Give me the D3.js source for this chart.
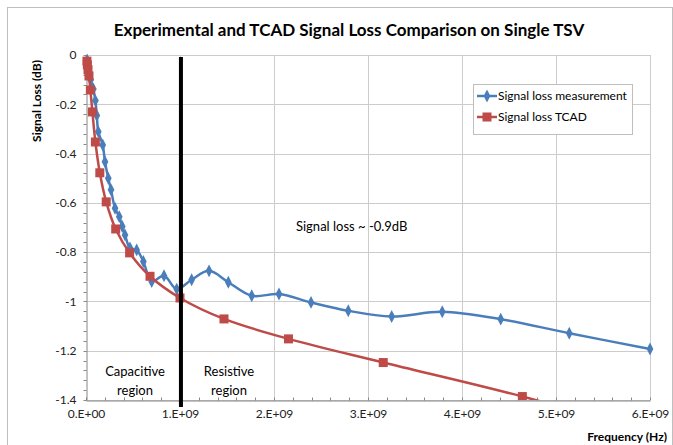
<!DOCTYPE html>
<html><head><meta charset="utf-8">
<script src="https://cdn.jsdelivr.net/npm/d3@7"></script>
<style>body{margin:0;background:#fff}svg text{font-family:Lato,"Open Sans",sans-serif}</style>
</head><body><svg id="c" width="673" height="445"></svg>
<script>
const measFreq = [0.012e9,0.03e9,0.05e9,0.078e9,0.100e9,0.115e9,0.131e9,0.178e9,0.202e9,0.237e9,0.266e9,0.309e9,0.354e9,0.386e9,0.415e9,0.468e9,0.539e9,0.610e9,0.699e9,0.830e9,0.965e9,1.124e9,1.309e9,1.514e9,1.763e9,2.053e9,2.394e9,2.790e9,3.252e9,3.790e9,4.412e9,5.141e9,6.0e9];
const measLoss = [-0.02,-0.06,-0.10,-0.138,-0.185,-0.245,-0.311,-0.365,-0.433,-0.500,-0.547,-0.622,-0.656,-0.696,-0.730,-0.783,-0.791,-0.838,-0.919,-0.896,-0.950,-0.912,-0.876,-0.922,-0.977,-0.970,-1.004,-1.038,-1.061,-1.042,-1.072,-1.129,-1.193];
const tcadFreq = [0.010e9,0.0147e9,0.0215e9,0.0316e9,0.0464e9,0.0681e9,0.100e9,0.147e9,0.215e9,0.316e9,0.464e9,0.681e9,1.000e9,1.468e9,2.154e9,3.162e9,4.642e9,6.81e9];
const tcadLoss = [-0.025,-0.04,-0.06,-0.085,-0.142,-0.231,-0.353,-0.478,-0.596,-0.706,-0.803,-0.898,-0.986,-1.071,-1.152,-1.248,-1.386,-1.62];
const xTicks = [0,1e9,2e9,3e9,4e9,5e9,6e9];
const xTickLabels = ["0.E+00","1.E+09","2.E+09","3.E+09","4.E+09","5.E+09","6.E+09"];
const yTicks = [0,-0.2,-0.4,-0.6,-0.8,-1,-1.2,-1.4];
const yTickLabels = ["0","-0.2","-0.4","-0.6","-0.8","-1","-1.2","-1.4"];
const seriesNames = ["Signal loss measurement","Signal loss TCAD"];
const boundaryFreq = 1.01e9;

const svg = d3.select("#c");
const L=86,R=650,T=55,B=400;
const x = d3.scaleLinear().domain([0,6e9]).range([L,R]);
const y = d3.scaleLinear().domain([-1.4,0]).range([B,T]);

svg.append("rect").attr("x",7.5).attr("y",7.5).attr("width",665).attr("height",440).attr("fill","none").attr("stroke","#bfbfbf");

svg.append("text").attr("x",349).attr("y",36).attr("text-anchor","middle")
  .attr("font-size",17).attr("font-weight","bold").attr("fill","#000")
  .text("Experimental and TCAD Signal Loss Comparison on Single TSV");

const g = svg.append("g");
g.selectAll(".hg").data(yTicks).enter().append("line")
  .attr("x1",L).attr("x2",R).attr("y1",d=>Math.round(y(d))+0.5).attr("y2",d=>Math.round(y(d))+0.5)
  .attr("stroke","#cccccc");
g.selectAll(".vg").data(xTicks.slice(1)).enter().append("line")
  .attr("y1",T).attr("y2",B).attr("x1",d=>Math.round(x(d))+0.5).attr("x2",d=>Math.round(x(d))+0.5)
  .attr("stroke","#cccccc");

const xAxis = d3.axisBottom(x).tickValues(xTicks).tickSize(0).tickPadding(9).tickFormat((d,i)=>xTickLabels[i]);
const gx = svg.append("g").attr("transform",`translate(0,${B+0.5})`).call(xAxis);
gx.select(".domain").attr("stroke","#868686");
gx.selectAll("text").attr("font-size",12).attr("fill","#222").style("font-family","Lato");
const xMinor = d3.range(0,6e9+1,0.2e9);
gx.selectAll(".mt").data(xMinor).enter().append("line")
  .attr("x1",d=>Math.round(x(d))+0.5).attr("x2",d=>Math.round(x(d))+0.5).attr("y1",0).attr("y2",-3).attr("stroke","#868686");

const yAxis = d3.axisLeft(y).tickValues(yTicks).tickSize(0).tickPadding(10).tickFormat((d,i)=>yTickLabels[i]);
const gy = svg.append("g").attr("transform",`translate(${L+0.5},0)`).call(yAxis);
gy.select(".domain").attr("stroke","#868686");
gy.selectAll("text").attr("font-size",12).attr("fill","#222").style("font-family","Lato");
const yMinor = d3.range(0,-1.4001,-0.04);
gy.selectAll(".mt").data(yMinor).enter().append("line")
  .attr("y1",d=>Math.round(y(d))+0.5).attr("y2",d=>Math.round(y(d))+0.5).attr("x1",0).attr("x2",-3).attr("stroke","#868686");

svg.append("text").attr("transform","translate(41,101) rotate(-90)").attr("text-anchor","middle")
  .attr("font-size",12).attr("font-weight","bold").text("Signal Loss (dB)");
svg.append("text").attr("x",667).attr("y",441).attr("text-anchor","end")
  .attr("font-size",12).attr("font-weight","bold").text("Frequency (Hz)");

svg.append("clipPath").attr("id","clip").append("rect").attr("x",L-6).attr("y",T-6).attr("width",R-L+12).attr("height",B-T+6);
const plot = svg.append("g").attr("clip-path","url(#clip)");
const line = d3.line().x(d=>x(d[0])).y(d=>y(d[1])).curve(d3.curveCatmullRom.alpha(0.5));

const meas = measFreq.map((f,i)=>[f,measLoss[i]]);
const tcad = tcadFreq.map((f,i)=>[f,tcadLoss[i]]);
const blue="#4a7ebb", red="#be4b48";

plot.append("path").datum(meas).attr("d",line).attr("fill","none").attr("stroke",blue).attr("stroke-width",2.5);
plot.selectAll(".dm").data(meas).enter().append("path")
  .attr("d",d3.symbol(d3.symbolDiamond,48)).attr("transform",d=>`translate(${x(d[0])},${y(d[1])}) scale(0.9,1)`).attr("fill",blue);

plot.append("path").datum(tcad).attr("d",line).attr("fill","none").attr("stroke",red).attr("stroke-width",2.5);
plot.selectAll(".sq").data(tcad.filter(d=>d[1]>=-1.4)).enter().append("rect")
  .attr("x",d=>x(d[0])-4.5).attr("y",d=>y(d[1])-4.5).attr("width",9).attr("height",9).attr("fill",red);

svg.append("line").attr("x1",x(boundaryFreq)).attr("x2",x(boundaryFreq)).attr("y1",57).attr("y2",407)
  .attr("stroke","#000").attr("stroke-width",4);

svg.append("text").attr("x",296).attr("y",231).attr("font-size",13).text("Signal loss ~ -0.9dB");
const ann = [["Capacitive",135,376],["region",135,395],["Resistive",229,376],["region",229,395]];
svg.selectAll(".ann").data(ann).enter().append("text").attr("x",d=>d[1]).attr("y",d=>d[2])
  .attr("text-anchor","middle").attr("font-size",13).text(d=>d[0]);

const lg = svg.append("g");
lg.append("rect").attr("x",473.5).attr("y",84.5).attr("width",159).attr("height",50).attr("fill","#fff").attr("stroke","#bfbfbf");
[[blue,96,"d"],[red,117,"s"]].forEach((s,i)=>{
  lg.append("line").attr("x1",477).attr("x2",497).attr("y1",s[1]).attr("y2",s[1]).attr("stroke",s[0]).attr("stroke-width",2.5);
  if(s[2]==="d") lg.append("path").attr("d",d3.symbol(d3.symbolDiamond,48)).attr("transform",`translate(487,${s[1]}) scale(0.9,1)`).attr("fill",s[0]);
  else lg.append("rect").attr("x",482.5).attr("y",s[1]-4.5).attr("width",9).attr("height",9).attr("fill",s[0]);
  lg.append("text").attr("x",498).attr("y",s[1]+4).attr("font-size",12).text(seriesNames[i]);
});
</script></body></html>
